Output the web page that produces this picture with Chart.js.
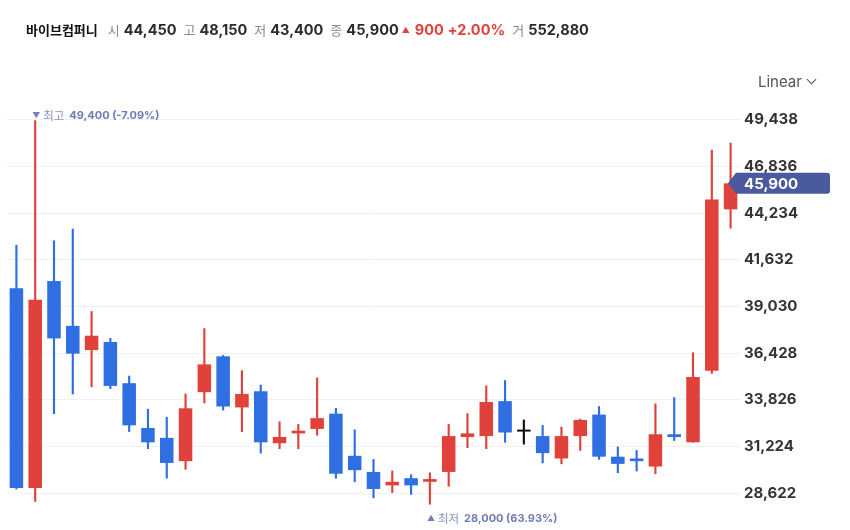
<!DOCTYPE html>
<html>
<head>
<meta charset="utf-8">
<script src="https://cdn.jsdelivr.net/npm/chart.js@4.4.1/dist/chart.umd.min.js"></script>
<style>
  html, body { margin: 0; padding: 0; background: #ffffff; }
  #wrap { position: relative; width: 850px; height: 530px; overflow: hidden; }
  #chart { position: absolute; left: 0; top: 0; }
  #hdr { position: absolute; left: 26px; top: 20px; white-space: nowrap;
         font-family: Inter, "Noto Sans CJK KR", sans-serif; font-size: 14.5px; line-height: 20px; color: #222; }
  #hdr .name { font-weight: 700; color: #111; margin-right: 10px; font-size: 13px; font-family: "Noto Sans CJK KR", sans-serif; }
  #hdr .lab { color: #8a8a8a; font-family: "Noto Sans CJK KR", sans-serif; font-size: 13px; font-weight: 400; margin-right: 4px; }
  #hdr .val { font-weight: 700; color: #2b2b2b; margin-right: 7px; }
  #hdr .up { color: #e0413a; font-weight: 700; }
  #hdr .tri { font-size: 8px; color: #e0413a; margin-right: 5px; vertical-align: 2px; }
  #scaleSel { position: absolute; left: 758px; top: 72px; font-family: Inter, sans-serif; font-size: 15px; color: #555; }
  #scaleSel .chev { display: inline-block; width: 6px; height: 6px; border-right: 1.5px solid #555; border-bottom: 1.5px solid #555;
                    transform: rotate(45deg); margin-left: 6px; vertical-align: 4px; }
</style>
</head>
<body>
<div id="wrap">
  <canvas id="chart" width="850" height="530"></canvas>
  <div id="hdr"><span class="name">바이브컴퍼니</span><span class="lab">시</span><span class="val">44,450</span><span class="lab">고</span><span class="val">48,150</span><span class="lab">저</span><span class="val">43,400</span><span class="lab">종</span><span class="val" style="margin-right:3px">45,900</span><span class="tri">▲</span><span class="up" style="margin-right:4px">900</span><span class="up" style="margin-right:7px">+2.00%</span><span class="lab">거</span><span class="val">552,880</span></div>
  <div id="scaleSel">Linear<span class="chev"></span></div>
</div>
<script>
// ---- data (daily candles, oldest -> newest) ----
const days = ["D1","D2","D3","D4","D5","D6","D7","D8","D9","D10","D11","D12","D13","D14","D15","D16","D17","D18","D19","D20",
              "D21","D22","D23","D24","D25","D26","D27","D28","D29","D30","D31","D32","D33","D34","D35","D36","D37","D38","D39"];
const opens  = [40050,28900,40450,37950,36600,37050,34750,32250,31700,30400,34250,36250,33400,34300,31400,31950,32200,33050,30700,29800,
                29050,29450,29250,29800,31750,31800,33750,32050,31800,30550,31800,33000,30650,30550,30100,31900,31450,35450,44450];
const highs  = [42450,49400,42700,43350,38750,37250,35150,33300,32850,34150,37800,36300,35450,34650,32600,32450,35050,33350,32150,30500,
                29850,29650,29750,32450,33050,34600,34900,32700,32400,32300,32750,33450,31200,31000,33600,33950,36450,47750,48150];
const lows   = [28850,28150,33050,34150,34550,34450,32050,31100,29450,29950,33650,33250,32050,30850,31100,31100,31850,29450,29250,28350,
                28650,28550,28000,29000,31150,31100,31450,31350,30300,30250,31000,30500,29750,29850,29700,31550,31450,35300,43400];
const closes = [28900,39400,37250,36400,37400,34600,32400,31450,30300,33350,35800,33450,34150,31450,31750,32100,32800,29700,29900,28850,
                29250,29050,29400,31800,31950,33700,32000,32050,30850,31800,32700,30650,30250,30400,31900,31750,35100,45000,45900];
const yTicks = [28622,31224,33826,36428,39030,41632,44234,46836,49438];
const yMin = 27341, yMax = 50775;

const UP = '#e0413a', DOWN = '#2f6fe2', FLAT = '#111111';
const candleColor = i => closes[i] > opens[i] ? UP : (closes[i] < opens[i] ? DOWN : FLAT);
const fmt = v => v.toLocaleString('en-US');

const bodies = opens.map((o, i) => [o, closes[i]]);
const wicks  = lows.map((l, i) => [l, highs[i]]);

const overlay = {
  id: 'overlay',
  afterDraw(chart) {
    const ctx = chart.ctx, xs = chart.scales.x, ys = chart.scales.y, area = chart.chartArea;
    // highest / lowest markers
    let hi = 0, lo = 0;
    highs.forEach((v, i) => { if (v > highs[hi]) hi = i; });
    lows.forEach((v, i) => { if (v < lows[lo]) lo = i; });
    const last = closes[closes.length - 1];
    const drawMark = (idx, val, up) => {
      const x = xs.getPixelForValue(idx);
      const y = ys.getPixelForValue(val) + (up ? 14 : -5);
      const pct = ((last / val - 1) * 100).toFixed(2);
      ctx.save();
      ctx.textBaseline = 'middle';
      ctx.fillStyle = '#7480ba';
      ctx.font = '8px Inter, sans-serif';
      ctx.textAlign = 'left';
      ctx.fillText(up ? '▲' : '▼', x - 3, y);
      ctx.font = '11.5px "Noto Sans CJK KR", sans-serif';
      ctx.fillStyle = '#8891c2';
      const lab = up ? '최저' : '최고';
      ctx.fillText(lab, x + 8, y);
      const lw = ctx.measureText(lab).width;
      ctx.font = 'bold 11px Inter, sans-serif';
      ctx.fillStyle = '#6e7bb6';
      ctx.fillText(fmt(val) + ' (' + pct + '%)', x + 8 + lw + 5, y);
      ctx.restore();
    };
    drawMark(hi, highs[hi], false);
    drawMark(lo, lows[lo], true);

    // last price tag
    const y = ys.getPixelForValue(last);
    const tip = area.right - 12, bx = area.right - 4, br = area.right + 90, h = 21;
    ctx.save();
    ctx.fillStyle = '#4a5a9c';
    ctx.beginPath();
    ctx.moveTo(tip, y);
    ctx.lineTo(bx, y - h / 2);
    ctx.lineTo(br - 3, y - h / 2);
    ctx.quadraticCurveTo(br, y - h / 2, br, y - h / 2 + 3);
    ctx.lineTo(br, y + h / 2 - 3);
    ctx.quadraticCurveTo(br, y + h / 2, br - 3, y + h / 2);
    ctx.lineTo(bx, y + h / 2);
    ctx.closePath();
    ctx.fill();
    ctx.fillStyle = '#ffffff';
    ctx.font = 'bold 15px Inter, sans-serif';
    ctx.textBaseline = 'middle';
    ctx.textAlign = 'left';
    ctx.fillText(fmt(last), area.right + 4, y + 1);
    ctx.restore();
  }
};

new Chart(document.getElementById('chart'), {
  type: 'bar',
  data: {
    labels: days,
    datasets: [
      { label: 'wick', data: wicks, grouped: false, barThickness: 1.5, order: 2,
        backgroundColor: ctx => candleColor(ctx.dataIndex) },
      { label: 'body', data: bodies, grouped: false, barPercentage: 0.72, categoryPercentage: 1, minBarLength: 2, order: 1,
        backgroundColor: ctx => candleColor(ctx.dataIndex) }
    ]
  },
  options: {
    responsive: false,
    animation: false,
    events: [],
    layout: { padding: { left: 7, top: 96, bottom: 14, right: 0 } },
    plugins: { legend: { display: false }, tooltip: { enabled: false } },
    scales: {
      x: { display: false, offset: true },
      y: {
        position: 'right',
        min: yMin, max: yMax,
        afterBuildTicks: s => { s.ticks = yTicks.map(v => ({ value: v })); },
        afterFit: s => { s.width = 110; },
        grid: { color: '#f1f1f3', drawTicks: false, lineWidth: 1 },
        border: { display: false },
        ticks: { padding: 4, color: '#333333', font: { family: 'Inter, sans-serif', size: 15, weight: 'bold' },
                 callback: v => fmt(v) }
      }
    }
  },
  plugins: [overlay]
});
</script>
</body>
</html>
